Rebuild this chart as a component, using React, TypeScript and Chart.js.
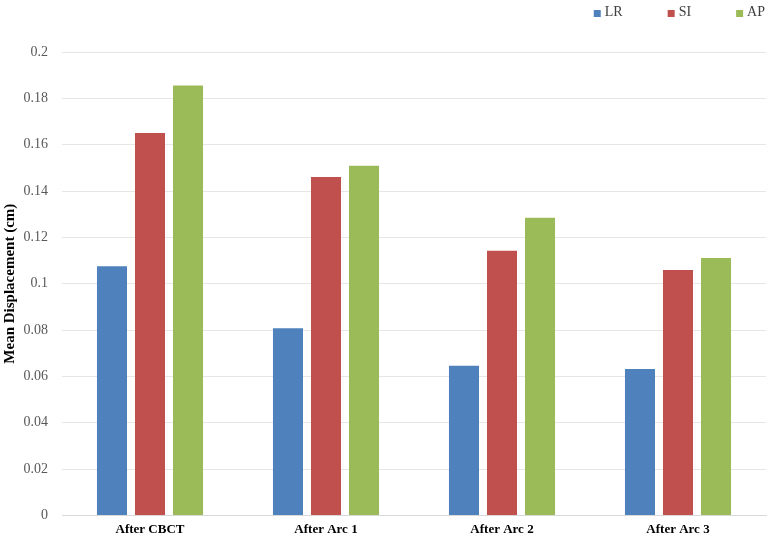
import React, { useEffect, useRef } from "react";
import { Chart, registerables } from "chart.js";

Chart.register(...registerables);

const categories = ["After CBCT", "After Arc 1", "After Arc 2", "After Arc 3"];
const seriesNames = ["LR", "SI", "AP"];
const lrValues = [0.1075, 0.0808, 0.0646, 0.0632];
const siValues = [0.165, 0.146, 0.1142, 0.1059];
const apValues = [0.1855, 0.1509, 0.1285, 0.1111];
const seriesColors = ["#4F81BD", "#C0504D", "#9BBB59"];
const yMin = 0;
const yMax = 0.2;
const yStep = 0.02;
const yTitle = "Mean Displacement (cm)";

const FONT = "'Liberation Serif', 'Times New Roman', serif";

// Legend drawn by a small Chart.js plugin, right-aligned at the top.
const topLegend = {
  id: "topLegend",
  afterDraw(chart: any) {
    const ctx = chart.ctx;
    const datasets = chart.data.datasets;
    ctx.save();
    ctx.font = `14px ${FONT}`;
    ctx.textBaseline = "alphabetic";
    const box = 7;
    const gapBoxText = 4;
    const gapItems = 45;
    const right = chart.width - 2;
    const widths = datasets.map((d: any) => box + gapBoxText + ctx.measureText(d.label).width);
    const total = widths.reduce((a: number, b: number) => a + b, 0) + gapItems * (datasets.length - 1);
    let x = right - total;
    const baseline = 16;
    datasets.forEach((d: any, i: number) => {
      ctx.fillStyle = d.backgroundColor;
      ctx.fillRect(x, baseline - 6, box, box);
      ctx.fillStyle = "#404040";
      ctx.fillText(d.label, x + box + gapBoxText, baseline);
      x += widths[i] + gapItems;
    });
    ctx.restore();
  },
};

export default function App() {
  const ref = useRef<HTMLCanvasElement | null>(null);

  useEffect(() => {
    if (!ref.current) return;
    const values = [lrValues, siValues, apValues];
    const chart = new Chart(ref.current, {
      type: "bar",
      data: {
        labels: categories,
        datasets: seriesNames.map((name, i) => ({
          label: name,
          data: values[i],
          backgroundColor: seriesColors[i],
          borderWidth: 0,
          categoryPercentage: 0.648,
          barPercentage: 0.79,
        })),
      },
      plugins: [topLegend],
      options: {
        responsive: false,
        animation: false,
        devicePixelRatio: 1,
        layout: { padding: { left: 0, right: 1, top: 52, bottom: 0 } },
        plugins: {
          tooltip: { enabled: false },
          legend: { display: false },
        },
        scales: {
          x: {
            grid: { display: false, drawTicks: false },
            border: { display: true, color: "#D9D9D9", width: 1 },
            ticks: {
              color: "#000000",
              padding: 6,
              font: { family: FONT, size: 13, weight: "bold" },
              maxRotation: 0,
            },
          },
          y: {
            min: yMin,
            max: yMax,
            afterFit: (scale: any) => {
              scale.width = 62;
            },
            grid: { color: "#E6E6E6", drawTicks: false, lineWidth: 1 },
            border: { display: false },
            ticks: {
              stepSize: yStep,
              color: "#595959",
              padding: 14,
              font: { family: FONT, size: 14 },
              callback: (v: any) => String(Number(Number(v).toFixed(2))),
            },
            title: {
              display: true,
              text: yTitle,
              color: "#000000",
              font: { family: FONT, size: 15, weight: "bold" },
              padding: { top: 1, bottom: 4 },
            },
          },
        },
      },
    });
    return () => chart.destroy();
  }, []);

  return (
    <div style={{ position: "absolute", left: 0, top: 0, width: 767, height: 543, background: "#fff" }}>
      <canvas ref={ref} width={767} height={543} style={{ display: "block" }} />
    </div>
  );
}
